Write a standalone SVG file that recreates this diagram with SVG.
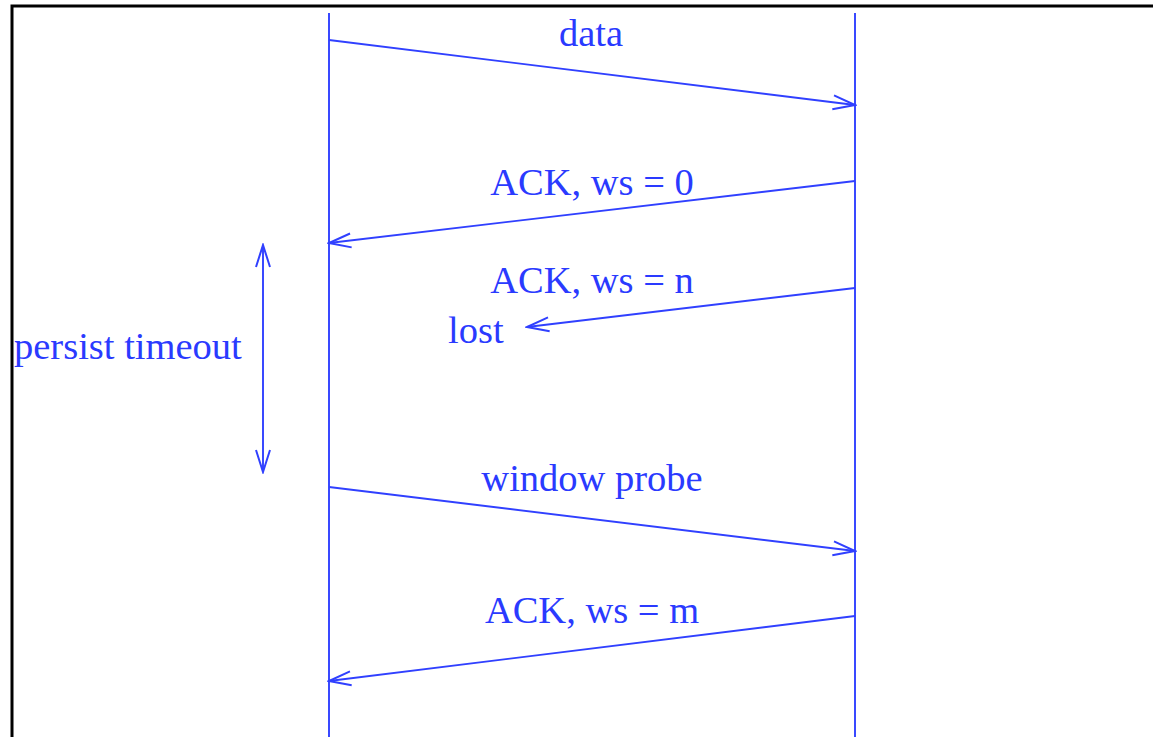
<svg xmlns="http://www.w3.org/2000/svg" width="1153" height="737" viewBox="0 0 1153 737">
  <defs>
    <style>
      .lane { stroke: #3040ff; stroke-width: 1.9; fill: none; }
      .msg { stroke: #3040ff; stroke-width: 1.9; fill: none; marker-end: url(#head); }
      .lbl { font-family: "Liberation Serif", "Times New Roman", serif; font-size: 38.5px; fill: #2a3aff; }
      .mid { text-anchor: middle; }
    </style>
    <!-- open V arrowhead -->
    <marker id="head" viewBox="-24 -9 26 18" refX="0" refY="0" markerWidth="26" markerHeight="18" markerUnits="userSpaceOnUse" orient="auto">
      <path d="M -22 -7 L 0 0 L -22 7" fill="none" stroke="#3040ff" stroke-width="2"/>
    </marker>
    <marker id="tail" viewBox="-24 -9 26 18" refX="0" refY="0" markerWidth="26" markerHeight="18" markerUnits="userSpaceOnUse" orient="auto-start-reverse">
      <path d="M -22 -7 L 0 0 L -22 7" fill="none" stroke="#3040ff" stroke-width="2"/>
    </marker>
  </defs>

  <rect width="1153" height="737" fill="#ffffff"/>
  <!-- outer frame, open to the right and bottom -->
  <rect x="12" y="6" width="1200" height="800" fill="none" stroke="#000000" stroke-width="3"/>

  <!-- sender and receiver timelines -->
  <g id="sender">
    <line class="lane" x1="329" y1="13" x2="329" y2="737"/>
  </g>
  <g id="receiver">
    <line class="lane" x1="855" y1="13" x2="855" y2="737"/>
  </g>

  <g id="connectors">
    <line class="msg" x1="329" y1="40" x2="855" y2="105"/>
    <line class="msg" x1="855" y1="181" x2="329" y2="243"/>
    <line class="msg" x1="855" y1="288" x2="527" y2="327"/>
    <line class="msg" x1="263" y1="472" x2="263" y2="245" style="marker-start: url(#tail);"/>
    <line class="msg" x1="329" y1="487" x2="855" y2="551"/>
    <line class="msg" x1="855" y1="616" x2="329" y2="681"/>
  </g>

  <g id="labels">
    <text class="lbl mid" x="591" y="46">data</text>
    <text class="lbl mid" x="592" y="195">ACK, ws = 0</text>
    <text class="lbl mid" x="592" y="293">ACK, ws = n</text>
    <text class="lbl" x="448" y="343">lost</text>
    <text class="lbl" x="14" y="359">persist timeout</text>
    <text class="lbl mid" x="592" y="491">window probe</text>
    <text class="lbl mid" x="592" y="623">ACK, ws = m</text>
  </g>
</svg>
